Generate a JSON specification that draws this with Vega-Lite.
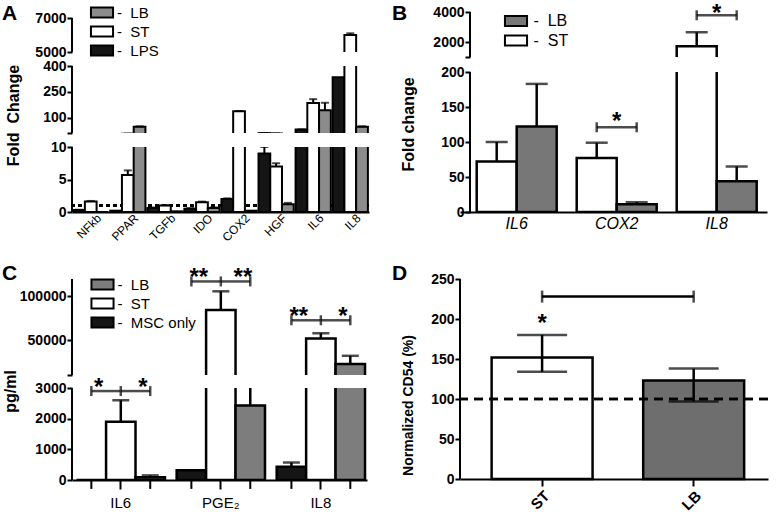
{
"$schema":"https://vega.github.io/schema/vega-lite/v6.json",
"background":"white",
"padding":{"left":2,"top":0,"right":5,"bottom":5},
"config":{
 "font":"Liberation Sans",
 "view":{"stroke":null},
 "axis":{"domainColor":"#000","domainWidth":2,"tickColor":"#000","tickWidth":2,"tickSize":5,"labelColor":"#000","labelFont":"Liberation Sans","labelFontSize":14,"labelFontWeight":"bold","labelPadding":1,"labelOverlap":false,"titleColor":"#000","titleFont":"Liberation Sans","titleFontSize":16,"titleFontWeight":"bold","grid":false},
 "axisY":{"domain":false,"tickColor":"#000"},
 "legend":{"orient":"none","title":null,"labelFont":"Liberation Sans","labelColor":"#000","labelFontSize":15,"symbolType":"M-1.3,-0.6H1.3V0.6H-1.3Z","symbolSize":289,"symbolStrokeColor":"#000","symbolStrokeWidth":2,"rowPadding":-1.5,"padding":0,"labelOffset":5.5,"direction":"vertical"},
 "title":{"font":"Liberation Sans","fontSize":21,"fontWeight":"bold","color":"#000","anchor":"start","frame":"group","offset":0,"baseline":"alphabetic"}
},
"datasets":{
 "A":[
  {"g":"NFkb","s":"LPS","v":0.3,"e":0.35},{"g":"NFkb","s":"ST","v":1.6,"e":1.7},{"g":"NFkb","s":"LB","v":0,"e":null},
  {"g":"PPAR","s":"LPS","v":0.2,"e":null},{"g":"PPAR","s":"ST","v":5.7,"e":6.4},{"g":"PPAR","s":"LB","v":47,"e":49},
  {"g":"TGFb","s":"LPS","v":0.6,"e":0.7},{"g":"TGFb","s":"ST","v":1.0,"e":1.05},{"g":"TGFb","s":"LB","v":0.1,"e":null},
  {"g":"IDO","s":"LPS","v":0.5,"e":0.6},{"g":"IDO","s":"ST","v":1.5,"e":1.6},{"g":"IDO","s":"LB","v":0.6,"e":0.7},
  {"g":"COX2","s":"LPS","v":2.0,"e":2.1},{"g":"COX2","s":"ST","v":136,"e":138},{"g":"COX2","s":"LB","v":0.2,"e":null},
  {"g":"HGF","s":"LPS","v":9.0,"e":10.0},{"g":"HGF","s":"ST","v":7.0,"e":7.5},{"g":"HGF","s":"LB","v":1.2,"e":1.4},
  {"g":"IL6","s":"LPS","v":30,"e":31},{"g":"IL6","s":"ST","v":185,"e":207},{"g":"IL6","s":"LB","v":143,"e":186},
  {"g":"IL8","s":"LPS","v":335,"e":null},{"g":"IL8","s":"ST","v":6000,"e":6100},{"g":"IL8","s":"LB","v":47,"e":49}
 ],
 "B":[
  {"g":"IL6","s":"ST","v":72,"e":100},{"g":"IL6","s":"LB","v":122,"e":183},
  {"g":"COX2","s":"ST","v":77,"e":99},{"g":"COX2","s":"LB","v":11,"e":14},
  {"g":"IL8","s":"ST","v":1720,"e":2650},{"g":"IL8","s":"LB","v":44,"e":65}
 ],
 "Bbr":[{"g":"COX2","pair":"ST-LB","y":121,"t":"*"},{"g":"IL8","pair":"ST-LB","y":3780,"t":"*"}],
 "Bcap":[{"g":"COX2","s":"ST","y":121},{"g":"COX2","s":"LB","y":121},{"g":"IL8","s":"ST","y":3780},{"g":"IL8","s":"LB","y":3780}],
 "C":[
  {"g":"IL6","s":"MSC only","v":0,"e":null},{"g":"IL6","s":"ST","v":1900,"e":2600},{"g":"IL6","s":"LB","v":90,"e":150},
  {"g":"PGE₂","s":"MSC only","v":320,"e":null},{"g":"PGE₂","s":"ST","v":84400,"e":105900},{"g":"PGE₂","s":"LB","v":2430,"e":5000},
  {"g":"IL8","s":"MSC only","v":430,"e":570},{"g":"IL8","s":"ST","v":51900,"e":57800},{"g":"IL8","s":"LB","v":22500,"e":32000}
 ],
 "Cbr":[
  {"g":"IL6","pair":"MSC-ST","y":2900,"t":"*"},{"g":"IL6","pair":"ST-LB","y":2900,"t":"*"},
  {"g":"PGE₂","pair":"MSC-ST","y":117200,"t":"**"},{"g":"PGE₂","pair":"ST-LB","y":117200,"t":"**"},
  {"g":"IL8","pair":"MSC-ST","y":72700,"t":"**"},{"g":"IL8","pair":"ST-LB","y":72700,"t":"*"}
 ],
 "Ccap":[
  {"g":"IL6","s":"MSC only","y":2900},{"g":"IL6","s":"ST","y":2900},{"g":"IL6","s":"LB","y":2900},
  {"g":"PGE₂","s":"MSC only","y":117200},{"g":"PGE₂","s":"ST","y":117200},{"g":"PGE₂","s":"LB","y":117200},
  {"g":"IL8","s":"MSC only","y":72700},{"g":"IL8","s":"ST","y":72700},{"g":"IL8","s":"LB","y":72700}
 ],
 "D":[{"s":"ST","v":152,"lo":134,"hi":180},{"s":"LB","v":123,"lo":97,"hi":138}],
 "Dbr":[{"a":"ST","b":"LB","y":228}],
 "Dcap":[{"s":"ST","y":228},{"s":"LB","y":228}],
 "Dstar":[{"s":"ST","y":194,"t":"*"}]
},
"resolve":{"scale":{"color":"independent","xOffset":"independent"},"legend":{"color":"independent"}},
"spacing":22,
"hconcat":[
 {"spacing":0,"bounds":"flush",
  "resolve":{"scale":{"color":"independent","xOffset":"independent"},"legend":{"color":"independent"}},
  "vconcat":[
   {"width":297,"height":18,"data":{"values":[]},"mark":"point","title":{"text":"A","dx":-70,"dy":27.5}},
   {"width":297,"height":34,"data":{"name":"A"},"layer":[
     {"mark":{"type":"rule","color":"#000","strokeWidth":2},"encoding":{
       "x":{"datum":"NFkb","bandPosition":-0.0316,"type":"nominal","scale":{"domain":["NFkb","PPAR","TGFb","IDO","COX2","HGF","IL6","IL8"],"paddingInner":0.05,"paddingOuter":0.03},"axis":null},
       "y":{"datum":5000,"type":"quantitative","scale":{"domain":[5000,7000]},"axis":{"domain":false,"tickColor":"#000","values":[5000,7000],"format":"d","title":null}},
       "y2":{"datum":7000}}},
     {"mark":{"type":"bar","stroke":"#000","strokeWidth":2,"clip":true},"encoding":{
       "x":{"field":"g","type":"nominal","scale":{"domain":["NFkb","PPAR","TGFb","IDO","COX2","HGF","IL6","IL8"],"paddingInner":0.05,"paddingOuter":0.03},"axis":null},
       "xOffset":{"field":"s","type":"nominal","scale":{"domain":["LPS","ST","LB"],"paddingInner":0,"paddingOuter":0}},
       "y":{"field":"v","type":"quantitative","scale":{"domain":[5000,7000]},"axis":{"domain":false,"tickColor":"#000","values":[5000,7000],"format":"d","title":null}},
       "y2":{"datum":0},
       "color":{"field":"s","type":"nominal","scale":{"domain":["LB","ST","LPS"],"range":["#8c8c8c","#ffffff","#151515"]},"legend":{"legendX":20.5,"legendY":-15,"labelExpr":"'-\u00a0 ' + datum.label"}}}},
     {"transform":[{"filter":"datum.e != null"}],"mark":{"type":"rule","color":"#000","strokeWidth":2,"clip":true},"encoding":{
       "x":{"field":"g","type":"nominal","scale":{"domain":["NFkb","PPAR","TGFb","IDO","COX2","HGF","IL6","IL8"],"paddingInner":0.05,"paddingOuter":0.03},"axis":null},
       "xOffset":{"field":"s","type":"nominal","scale":{"domain":["LPS","ST","LB"],"paddingInner":0,"paddingOuter":0}},
       "y":{"field":"v","type":"quantitative","scale":{"domain":[5000,7000]},"axis":{"domain":false,"tickColor":"#000","values":[5000,7000],"format":"d","title":null}},"y2":{"field":"e"}}},
     {"transform":[{"filter":"datum.e != null"}],"mark":{"type":"tick","color":"#000","thickness":2,"size":8,"clip":true},"encoding":{
       "x":{"field":"g","type":"nominal","scale":{"domain":["NFkb","PPAR","TGFb","IDO","COX2","HGF","IL6","IL8"],"paddingInner":0.05,"paddingOuter":0.03},"axis":null},
       "xOffset":{"field":"s","type":"nominal","scale":{"domain":["LPS","ST","LB"],"paddingInner":0,"paddingOuter":0}},
       "y":{"field":"e","type":"quantitative","scale":{"domain":[5000,7000]},"axis":{"domain":false,"tickColor":"#000","values":[5000,7000],"format":"d","title":null}}}}
   ]},
   {"width":297,"height":14,"data":{"values":[]},"mark":"point"},
   {"width":297,"height":67,"data":{"name":"A"},"layer":[
     {"mark":{"type":"rule","color":"#000","strokeWidth":2},"encoding":{
       "x":{"datum":"NFkb","bandPosition":-0.0316,"type":"nominal","scale":{"domain":["NFkb","PPAR","TGFb","IDO","COX2","HGF","IL6","IL8"],"paddingInner":0.05,"paddingOuter":0.03},"axis":null},
       "y":{"datum":10,"type":"quantitative","scale":{"domain":[10,400]},"axis":{"domain":false,"tickColor":"#000","values":[10,100,250,400],"format":"d","labelExpr":"datum.value == 10 ? '' : datum.label","title":"Fold\u00a0 Change","titleX":-59,"titleY":49,"titleBaseline":"middle","titleAlign":"center"}},
       "y2":{"datum":400}}},
     {"mark":{"type":"bar","stroke":"#000","strokeWidth":2,"clip":true},"encoding":{
       "x":{"field":"g","type":"nominal","scale":{"domain":["NFkb","PPAR","TGFb","IDO","COX2","HGF","IL6","IL8"],"paddingInner":0.05,"paddingOuter":0.03},"axis":null},
       "xOffset":{"field":"s","type":"nominal","scale":{"domain":["LPS","ST","LB"],"paddingInner":0,"paddingOuter":0}},
       "y":{"field":"v","type":"quantitative","scale":{"domain":[10,400]},"axis":{"domain":false,"tickColor":"#000","values":[10,100,250,400],"format":"d","labelExpr":"datum.value == 10 ? '' : datum.label","title":"Fold\u00a0 Change","titleX":-59,"titleY":49,"titleBaseline":"middle","titleAlign":"center"}},
       "y2":{"datum":0},
       "color":{"field":"s","type":"nominal","scale":{"domain":["LB","ST","LPS"],"range":["#8c8c8c","#ffffff","#151515"]},"legend":null}}},
     {"transform":[{"filter":"datum.e != null"}],"mark":{"type":"rule","color":"#000","strokeWidth":2,"clip":true},"encoding":{
       "x":{"field":"g","type":"nominal","scale":{"domain":["NFkb","PPAR","TGFb","IDO","COX2","HGF","IL6","IL8"],"paddingInner":0.05,"paddingOuter":0.03},"axis":null},
       "xOffset":{"field":"s","type":"nominal","scale":{"domain":["LPS","ST","LB"],"paddingInner":0,"paddingOuter":0}},
       "y":{"field":"v","type":"quantitative","scale":{"domain":[10,400]},"axis":{"domain":false,"tickColor":"#000","values":[10,100,250,400],"format":"d","labelExpr":"datum.value == 10 ? '' : datum.label","title":"Fold\u00a0 Change","titleX":-59,"titleY":49,"titleBaseline":"middle","titleAlign":"center"}},"y2":{"field":"e"}}},
     {"transform":[{"filter":"datum.e != null"}],"mark":{"type":"tick","color":"#000","thickness":2,"size":8,"clip":true},"encoding":{
       "x":{"field":"g","type":"nominal","scale":{"domain":["NFkb","PPAR","TGFb","IDO","COX2","HGF","IL6","IL8"],"paddingInner":0.05,"paddingOuter":0.03},"axis":null},
       "xOffset":{"field":"s","type":"nominal","scale":{"domain":["LPS","ST","LB"],"paddingInner":0,"paddingOuter":0}},
       "y":{"field":"e","type":"quantitative","scale":{"domain":[10,400]},"axis":{"domain":false,"tickColor":"#000","values":[10,100,250,400],"format":"d","labelExpr":"datum.value == 10 ? '' : datum.label","title":"Fold\u00a0 Change","titleX":-59,"titleY":49,"titleBaseline":"middle","titleAlign":"center"}}}}
   ]},
   {"width":297,"height":14,"data":{"values":[]},"mark":"point"},
   {"width":297,"height":65,"data":{"name":"A"},"layer":[
     {"mark":{"type":"rule","color":"#000","strokeWidth":2,"strokeDash":[4,3]},"encoding":{
       "y":{"datum":1,"type":"quantitative","scale":{"domain":[0,10]},"axis":{"domain":false,"tickColor":"#000","values":[0,5,10],"format":"d","title":null}}}},
     {"mark":{"type":"rule","color":"#000","strokeWidth":2},"encoding":{
       "x":{"datum":"NFkb","bandPosition":-0.0316,"type":"nominal","scale":{"domain":["NFkb","PPAR","TGFb","IDO","COX2","HGF","IL6","IL8"],"paddingInner":0.05,"paddingOuter":0.03},"axis":{"title":null,"labels":false,"ticks":false,"domain":true}},
       "y":{"datum":0,"type":"quantitative","scale":{"domain":[0,10]},"axis":{"domain":false,"tickColor":"#000","values":[0,5,10],"format":"d","title":null}},
       "y2":{"datum":10}}},
     {"mark":{"type":"bar","stroke":"#000","strokeWidth":2,"clip":true},"encoding":{
       "x":{"field":"g","type":"nominal","scale":{"domain":["NFkb","PPAR","TGFb","IDO","COX2","HGF","IL6","IL8"],"paddingInner":0.05,"paddingOuter":0.03},"axis":{"title":null,"labels":false,"ticks":false,"domain":true}},
       "xOffset":{"field":"s","type":"nominal","scale":{"domain":["LPS","ST","LB"],"paddingInner":0,"paddingOuter":0}},
       "y":{"field":"v","type":"quantitative","scale":{"domain":[0,10]},"axis":{"domain":false,"tickColor":"#000","values":[0,5,10],"format":"d","title":null}},
       "y2":{"datum":0},
       "color":{"field":"s","type":"nominal","scale":{"domain":["LB","ST","LPS"],"range":["#8c8c8c","#ffffff","#151515"]},"legend":null}}},
     {"transform":[{"filter":"datum.e != null"}],"mark":{"type":"rule","color":"#000","strokeWidth":2,"clip":true},"encoding":{
       "x":{"field":"g","type":"nominal","scale":{"domain":["NFkb","PPAR","TGFb","IDO","COX2","HGF","IL6","IL8"],"paddingInner":0.05,"paddingOuter":0.03},"axis":{"title":null,"labels":false,"ticks":false,"domain":true}},
       "xOffset":{"field":"s","type":"nominal","scale":{"domain":["LPS","ST","LB"],"paddingInner":0,"paddingOuter":0}},
       "y":{"field":"v","type":"quantitative","scale":{"domain":[0,10]},"axis":{"domain":false,"tickColor":"#000","values":[0,5,10],"format":"d","title":null}},"y2":{"field":"e"}}},
     {"transform":[{"filter":"datum.e != null"}],"mark":{"type":"tick","color":"#000","thickness":2,"size":8,"clip":true},"encoding":{
       "x":{"field":"g","type":"nominal","scale":{"domain":["NFkb","PPAR","TGFb","IDO","COX2","HGF","IL6","IL8"],"paddingInner":0.05,"paddingOuter":0.03},"axis":{"title":null,"labels":false,"ticks":false,"domain":true}},
       "xOffset":{"field":"s","type":"nominal","scale":{"domain":["LPS","ST","LB"],"paddingInner":0,"paddingOuter":0}},
       "y":{"field":"e","type":"quantitative","scale":{"domain":[0,10]},"axis":{"domain":false,"tickColor":"#000","values":[0,5,10],"format":"d","title":null}}}},
     {"transform":[{"filter":"datum.s == 'ST'"}],"mark":{"type":"text","color":"#000","fontSize":12,"font":"Liberation Sans","angle":-45,"align":"right","baseline":"middle","dx":3,"dy":9},"encoding":{
       "x":{"field":"g","type":"nominal","scale":{"domain":["NFkb","PPAR","TGFb","IDO","COX2","HGF","IL6","IL8"],"paddingInner":0.05,"paddingOuter":0.03},"axis":{"title":null,"labels":false,"ticks":false,"domain":true}},
       "y":{"datum":0,"type":"quantitative","scale":{"domain":[0,10]},"axis":{"domain":false,"tickColor":"#000","values":[0,5,10],"format":"d","title":null}},
       "text":{"field":"g"}}}
   ]},
   {"width":295,"height":67,"data":{"values":[]},"mark":"point","title":{"text":"C","dx":-70,"dy":75.5}},
   {"width":295,"height":96,"data":{"name":"C"},"resolve":{"scale":{"xOffset":"independent"}},"layer":[
     {"mark":{"type":"rule","color":"#000","strokeWidth":2},"encoding":{
       "x":{"datum":"IL6","bandPosition":-0.0523,"type":"nominal","scale":{"domain":["IL6","PGE₂","IL8"],"paddingInner":0.117,"paddingOuter":0.033,"align":0.7},"axis":null},
       "y":{"datum":10000,"type":"quantitative","scale":{"domain":[10000,120000]},"axis":{"domain":false,"tickColor":"#000","values":[10000,50000,100000],"format":"d","labelExpr":"datum.value == 10000 ? '' : datum.label","title":null}},
       "y2":{"datum":120000}}},
     {"mark":{"type":"bar","stroke":"#000","strokeWidth":2.5,"clip":true},"encoding":{
       "x":{"field":"g","type":"nominal","scale":{"domain":["IL6","PGE₂","IL8"],"paddingInner":0.117,"paddingOuter":0.033,"align":0.7},"axis":null},
       "xOffset":{"field":"s","type":"nominal","scale":{"domain":["MSC only","ST","LB"],"paddingInner":0,"paddingOuter":0}},
       "y":{"field":"v","type":"quantitative","scale":{"domain":[10000,120000]},"axis":{"domain":false,"tickColor":"#000","values":[10000,50000,100000],"format":"d","labelExpr":"datum.value == 10000 ? '' : datum.label","title":null}},
       "y2":{"datum":0},
       "color":{"field":"s","type":"nominal","scale":{"domain":["LB","ST","MSC only"],"range":["#7d7d7d","#ffffff","#151515"]},"legend":{"legendX":21,"legendY":-4,"rowPadding":-2,"labelExpr":"'-\u00a0 ' + datum.label"}}}},
     {"transform":[{"filter":"datum.e != null"}],"mark":{"type":"rule","color":"#000","strokeWidth":2.5,"clip":true},"encoding":{
       "x":{"field":"g","type":"nominal","scale":{"domain":["IL6","PGE₂","IL8"],"paddingInner":0.117,"paddingOuter":0.033,"align":0.7},"axis":null},
       "xOffset":{"field":"s","type":"nominal","scale":{"domain":["MSC only","ST","LB"],"paddingInner":0,"paddingOuter":0}},
       "y":{"field":"v","type":"quantitative","scale":{"domain":[10000,120000]},"axis":{"domain":false,"tickColor":"#000","values":[10000,50000,100000],"format":"d","labelExpr":"datum.value == 10000 ? '' : datum.label","title":null}},"y2":{"field":"e"}}},
     {"transform":[{"filter":"datum.e != null"}],"mark":{"type":"tick","color":"#000","thickness":2.5,"size":17,"clip":true},"encoding":{
       "x":{"field":"g","type":"nominal","scale":{"domain":["IL6","PGE₂","IL8"],"paddingInner":0.117,"paddingOuter":0.033,"align":0.7},"axis":null},
       "xOffset":{"field":"s","type":"nominal","scale":{"domain":["MSC only","ST","LB"],"paddingInner":0,"paddingOuter":0}},
       "y":{"field":"e","type":"quantitative","scale":{"domain":[10000,120000]},"axis":{"domain":false,"tickColor":"#000","values":[10000,50000,100000],"format":"d","labelExpr":"datum.value == 10000 ? '' : datum.label","title":null}}}},
     {"data":{"name":"Cbr"},"transform":[{"filter":"datum.y > 3000"}],"mark":{"type":"tick","color":"#000","thickness":2.5,"size":29},"encoding":{
       "x":{"field":"g","type":"nominal","scale":{"domain":["IL6","PGE₂","IL8"],"paddingInner":0.117,"paddingOuter":0.033,"align":0.7},"axis":null},
       "xOffset":{"field":"pair","type":"nominal","scale":{"domain":["MSC-ST","ST-LB"],"paddingInner":0,"paddingOuter":0.5}},
       "y":{"field":"y","type":"quantitative","scale":{"domain":[10000,120000]},"axis":{"domain":false,"tickColor":"#000","values":[10000,50000,100000],"format":"d","labelExpr":"datum.value == 10000 ? '' : datum.label","title":null}}}},
     {"data":{"name":"Ccap"},"transform":[{"filter":"datum.y > 3000"}],"mark":{"type":"tick","orient":"vertical","color":"#000","thickness":2.5,"size":10},"encoding":{
       "x":{"field":"g","type":"nominal","scale":{"domain":["IL6","PGE₂","IL8"],"paddingInner":0.117,"paddingOuter":0.033,"align":0.7},"axis":null},
       "xOffset":{"field":"s","type":"nominal","scale":{"domain":["MSC only","ST","LB"],"paddingInner":0,"paddingOuter":0}},
       "y":{"field":"y","type":"quantitative","scale":{"domain":[10000,120000]},"axis":{"domain":false,"tickColor":"#000","values":[10000,50000,100000],"format":"d","labelExpr":"datum.value == 10000 ? '' : datum.label","title":null}}}},
     {"data":{"name":"Cbr"},"transform":[{"filter":"datum.y > 3000"}],"mark":{"type":"text","color":"#000","fontSize":24,"fontWeight":"bold","baseline":"middle","dy":-3},"encoding":{
       "x":{"field":"g","type":"nominal","scale":{"domain":["IL6","PGE₂","IL8"],"paddingInner":0.117,"paddingOuter":0.033,"align":0.7},"axis":null},
       "xOffset":{"field":"pair","type":"nominal","scale":{"domain":["MSC-ST","ST-LB"],"paddingInner":0,"paddingOuter":0.5}},
       "y":{"field":"y","type":"quantitative","scale":{"domain":[10000,120000]},"axis":{"domain":false,"tickColor":"#000","values":[10000,50000,100000],"format":"d","labelExpr":"datum.value == 10000 ? '' : datum.label","title":null}},
       "text":{"field":"t"}}}
   ]},
   {"width":295,"height":13,"data":{"values":[]},"mark":"point"},
   {"width":295,"height":92,"data":{"name":"C"},"resolve":{"scale":{"xOffset":"independent"}},"layer":[
     {"mark":{"type":"rule","color":"#000","strokeWidth":2},"encoding":{
       "x":{"datum":"IL6","bandPosition":-0.0523,"type":"nominal","scale":{"domain":["IL6","PGE₂","IL8"],"paddingInner":0.117,"paddingOuter":0.033,"align":0.7},"axis":{"title":null,"labelAngle":0,"labelFontWeight":"normal","labelFontSize":15,"tickSize":9,"labelPadding":6}},
       "y":{"datum":0,"type":"quantitative","scale":{"domain":[0,3000]},"axis":{"domain":false,"tickColor":"#000","values":[0,1000,2000,3000],"format":"d","title":"pg/ml","titleX":-62,"titleY":3,"titleBaseline":"middle","titleAlign":"center"}},
       "y2":{"datum":3000}}},
     {"mark":{"type":"bar","stroke":"#000","strokeWidth":2.5,"clip":true},"encoding":{
       "x":{"field":"g","type":"nominal","scale":{"domain":["IL6","PGE₂","IL8"],"paddingInner":0.117,"paddingOuter":0.033,"align":0.7},"axis":{"title":null,"labelAngle":0,"labelFontWeight":"normal","labelFontSize":15,"tickSize":9,"labelPadding":6}},
       "xOffset":{"field":"s","type":"nominal","scale":{"domain":["MSC only","ST","LB"],"paddingInner":0,"paddingOuter":0}},
       "y":{"field":"v","type":"quantitative","scale":{"domain":[0,3000]},"axis":{"domain":false,"tickColor":"#000","values":[0,1000,2000,3000],"format":"d","title":"pg/ml","titleX":-62,"titleY":3,"titleBaseline":"middle","titleAlign":"center"}},
       "y2":{"datum":0},
       "color":{"field":"s","type":"nominal","scale":{"domain":["LB","ST","MSC only"],"range":["#7d7d7d","#ffffff","#151515"]},"legend":null}}},
     {"transform":[{"filter":"datum.e != null"}],"mark":{"type":"rule","color":"#000","strokeWidth":2.5,"clip":true},"encoding":{
       "x":{"field":"g","type":"nominal","scale":{"domain":["IL6","PGE₂","IL8"],"paddingInner":0.117,"paddingOuter":0.033,"align":0.7},"axis":{"title":null,"labelAngle":0,"labelFontWeight":"normal","labelFontSize":15,"tickSize":9,"labelPadding":6}},
       "xOffset":{"field":"s","type":"nominal","scale":{"domain":["MSC only","ST","LB"],"paddingInner":0,"paddingOuter":0}},
       "y":{"field":"v","type":"quantitative","scale":{"domain":[0,3000]},"axis":{"domain":false,"tickColor":"#000","values":[0,1000,2000,3000],"format":"d","title":"pg/ml","titleX":-62,"titleY":3,"titleBaseline":"middle","titleAlign":"center"}},"y2":{"field":"e"}}},
     {"transform":[{"filter":"datum.e != null"}],"mark":{"type":"tick","color":"#000","thickness":2.5,"size":17,"clip":true},"encoding":{
       "x":{"field":"g","type":"nominal","scale":{"domain":["IL6","PGE₂","IL8"],"paddingInner":0.117,"paddingOuter":0.033,"align":0.7},"axis":{"title":null,"labelAngle":0,"labelFontWeight":"normal","labelFontSize":15,"tickSize":9,"labelPadding":6}},
       "xOffset":{"field":"s","type":"nominal","scale":{"domain":["MSC only","ST","LB"],"paddingInner":0,"paddingOuter":0}},
       "y":{"field":"e","type":"quantitative","scale":{"domain":[0,3000]},"axis":{"domain":false,"tickColor":"#000","values":[0,1000,2000,3000],"format":"d","title":"pg/ml","titleX":-62,"titleY":3,"titleBaseline":"middle","titleAlign":"center"}}}},
     {"transform":[{"filter":"datum.s != 'ST'"}],"mark":{"type":"rule","color":"#000","strokeWidth":2},"encoding":{
       "x":{"field":"g","type":"nominal","scale":{"domain":["IL6","PGE₂","IL8"],"paddingInner":0.117,"paddingOuter":0.033,"align":0.7},"axis":{"title":null,"labelAngle":0,"labelFontWeight":"normal","labelFontSize":15,"tickSize":9,"labelPadding":6}},
       "xOffset":{"field":"s","type":"nominal","scale":{"domain":["MSC only","ST","LB"],"paddingInner":0,"paddingOuter":0}},
       "y":{"datum":0,"type":"quantitative","scale":{"domain":[0,3000]},"axis":{"domain":false,"tickColor":"#000","values":[0,1000,2000,3000],"format":"d","title":"pg/ml","titleX":-62,"titleY":3,"titleBaseline":"middle","titleAlign":"center"}},"y2":{"datum":-290}}},
     {"data":{"name":"Cbr"},"transform":[{"filter":"datum.y <= 3000"}],"mark":{"type":"tick","color":"#000","thickness":2.5,"size":29},"encoding":{
       "x":{"field":"g","type":"nominal","scale":{"domain":["IL6","PGE₂","IL8"],"paddingInner":0.117,"paddingOuter":0.033,"align":0.7},"axis":{"title":null,"labelAngle":0,"labelFontWeight":"normal","labelFontSize":15,"tickSize":9,"labelPadding":6}},
       "xOffset":{"field":"pair","type":"nominal","scale":{"domain":["MSC-ST","ST-LB"],"paddingInner":0,"paddingOuter":0.5}},
       "y":{"field":"y","type":"quantitative","scale":{"domain":[0,3000]},"axis":{"domain":false,"tickColor":"#000","values":[0,1000,2000,3000],"format":"d","title":"pg/ml","titleX":-62,"titleY":3,"titleBaseline":"middle","titleAlign":"center"}}}},
     {"data":{"name":"Ccap"},"transform":[{"filter":"datum.y <= 3000"}],"mark":{"type":"tick","orient":"vertical","color":"#000","thickness":2.5,"size":10},"encoding":{
       "x":{"field":"g","type":"nominal","scale":{"domain":["IL6","PGE₂","IL8"],"paddingInner":0.117,"paddingOuter":0.033,"align":0.7},"axis":{"title":null,"labelAngle":0,"labelFontWeight":"normal","labelFontSize":15,"tickSize":9,"labelPadding":6}},
       "xOffset":{"field":"s","type":"nominal","scale":{"domain":["MSC only","ST","LB"],"paddingInner":0,"paddingOuter":0}},
       "y":{"field":"y","type":"quantitative","scale":{"domain":[0,3000]},"axis":{"domain":false,"tickColor":"#000","values":[0,1000,2000,3000],"format":"d","title":"pg/ml","titleX":-62,"titleY":3,"titleBaseline":"middle","titleAlign":"center"}}}},
     {"data":{"name":"Cbr"},"transform":[{"filter":"datum.y <= 3000"}],"mark":{"type":"text","color":"#000","fontSize":24,"fontWeight":"bold","baseline":"middle","dy":-3},"encoding":{
       "x":{"field":"g","type":"nominal","scale":{"domain":["IL6","PGE₂","IL8"],"paddingInner":0.117,"paddingOuter":0.033,"align":0.7},"axis":{"title":null,"labelAngle":0,"labelFontWeight":"normal","labelFontSize":15,"tickSize":9,"labelPadding":6}},
       "xOffset":{"field":"pair","type":"nominal","scale":{"domain":["MSC-ST","ST-LB"],"paddingInner":0,"paddingOuter":0.5}},
       "y":{"field":"y","type":"quantitative","scale":{"domain":[0,3000]},"axis":{"domain":false,"tickColor":"#000","values":[0,1000,2000,3000],"format":"d","title":"pg/ml","titleX":-62,"titleY":3,"titleBaseline":"middle","titleAlign":"center"}},
       "text":{"field":"t"}}}
   ]}
  ]},
 {"spacing":0,"bounds":"flush",
  "resolve":{"scale":{"color":"independent","xOffset":"independent"},"legend":{"color":"independent"}},
  "vconcat":[
   {"width":307,"height":12,"data":{"values":[]},"mark":"point","title":{"text":"B","dx":-68,"dy":27.5}},
   {"width":307,"height":45,"data":{"name":"B"},"resolve":{"scale":{"xOffset":"independent"}},"layer":[
     {"mark":{"type":"rule","color":"#000","strokeWidth":2},"encoding":{
       "x":{"datum":"IL6","bandPosition":0,"type":"nominal","scale":{"domain":["IL6","COX2","IL8"],"paddingInner":0.066,"paddingOuter":0.068,"align":0.735},"axis":null},
       "y":{"datum":1000,"type":"quantitative","scale":{"domain":[1000,4000]},"axis":{"domain":false,"tickColor":"#000","values":[1000,2000,4000],"format":"d","labelExpr":"datum.value == 1000 ? '' : datum.label","title":null,"offset":-10}},
       "y2":{"datum":4000}}},
     {"mark":{"type":"bar","stroke":"#000","strokeWidth":2.5,"clip":true},"encoding":{
       "x":{"field":"g","type":"nominal","scale":{"domain":["IL6","COX2","IL8"],"paddingInner":0.066,"paddingOuter":0.068,"align":0.735},"axis":null},
       "xOffset":{"field":"s","type":"nominal","scale":{"domain":["ST","LB"],"paddingInner":0,"paddingOuter":0.1675}},
       "y":{"field":"v","type":"quantitative","scale":{"domain":[1000,4000]},"axis":{"domain":false,"tickColor":"#000","values":[1000,2000,4000],"format":"d","labelExpr":"datum.value == 1000 ? '' : datum.label","title":null,"offset":-10}},
       "y2":{"datum":0},
       "color":{"field":"s","type":"nominal","scale":{"domain":["LB","ST"],"range":["#777777","#ffffff"]},"legend":{"legendX":46.5,"legendY":-0.5,"rowPadding":0.5,"labelFontSize":16,"labelOffset":8,"labelExpr":"'-\u00a0 ' + datum.label"}}}},
     {"mark":{"type":"rule","color":"#000","strokeWidth":2.5,"clip":true},"encoding":{
       "x":{"field":"g","type":"nominal","scale":{"domain":["IL6","COX2","IL8"],"paddingInner":0.066,"paddingOuter":0.068,"align":0.735},"axis":null},
       "xOffset":{"field":"s","type":"nominal","scale":{"domain":["ST","LB"],"paddingInner":0,"paddingOuter":0.1675}},
       "y":{"field":"v","type":"quantitative","scale":{"domain":[1000,4000]},"axis":{"domain":false,"tickColor":"#000","values":[1000,2000,4000],"format":"d","labelExpr":"datum.value == 1000 ? '' : datum.label","title":null,"offset":-10}},"y2":{"field":"e"}}},
     {"mark":{"type":"tick","color":"#000","thickness":2.5,"size":22,"clip":true},"encoding":{
       "x":{"field":"g","type":"nominal","scale":{"domain":["IL6","COX2","IL8"],"paddingInner":0.066,"paddingOuter":0.068,"align":0.735},"axis":null},
       "xOffset":{"field":"s","type":"nominal","scale":{"domain":["ST","LB"],"paddingInner":0,"paddingOuter":0.1675}},
       "y":{"field":"e","type":"quantitative","scale":{"domain":[1000,4000]},"axis":{"domain":false,"tickColor":"#000","values":[1000,2000,4000],"format":"d","labelExpr":"datum.value == 1000 ? '' : datum.label","title":null,"offset":-10}}}},
     {"data":{"name":"Bbr"},"transform":[{"filter":"datum.y > 200"}],"mark":{"type":"tick","color":"#000","thickness":2.5,"size":40},"encoding":{
       "x":{"field":"g","type":"nominal","scale":{"domain":["IL6","COX2","IL8"],"paddingInner":0.066,"paddingOuter":0.068,"align":0.735},"axis":null},
       "xOffset":{"field":"pair","type":"nominal","scale":{"domain":["ST-LB"],"paddingInner":0,"paddingOuter":0.5}},
       "y":{"field":"y","type":"quantitative","scale":{"domain":[1000,4000]},"axis":{"domain":false,"tickColor":"#000","values":[1000,2000,4000],"format":"d","labelExpr":"datum.value == 1000 ? '' : datum.label","title":null,"offset":-10}}}},
     {"data":{"name":"Bcap"},"transform":[{"filter":"datum.y > 200"}],"mark":{"type":"tick","orient":"vertical","color":"#000","thickness":2.5,"size":10},"encoding":{
       "x":{"field":"g","type":"nominal","scale":{"domain":["IL6","COX2","IL8"],"paddingInner":0.066,"paddingOuter":0.068,"align":0.735},"axis":null},
       "xOffset":{"field":"s","type":"nominal","scale":{"domain":["ST","LB"],"paddingInner":0,"paddingOuter":0.1675}},
       "y":{"field":"y","type":"quantitative","scale":{"domain":[1000,4000]},"axis":{"domain":false,"tickColor":"#000","values":[1000,2000,4000],"format":"d","labelExpr":"datum.value == 1000 ? '' : datum.label","title":null,"offset":-10}}}},
     {"data":{"name":"Bbr"},"transform":[{"filter":"datum.y > 200"}],"mark":{"type":"text","color":"#000","fontSize":24,"fontWeight":"bold","baseline":"middle","dy":-1},"encoding":{
       "x":{"field":"g","type":"nominal","scale":{"domain":["IL6","COX2","IL8"],"paddingInner":0.066,"paddingOuter":0.068,"align":0.735},"axis":null},
       "xOffset":{"field":"pair","type":"nominal","scale":{"domain":["ST-LB"],"paddingInner":0,"paddingOuter":0.5}},
       "y":{"field":"y","type":"quantitative","scale":{"domain":[1000,4000]},"axis":{"domain":false,"tickColor":"#000","values":[1000,2000,4000],"format":"d","labelExpr":"datum.value == 1000 ? '' : datum.label","title":null,"offset":-10}},
       "text":{"field":"t"}}}
   ]},
   {"width":307,"height":15,"data":{"values":[]},"mark":"point"},
   {"width":307,"height":140,"data":{"name":"B"},"resolve":{"scale":{"xOffset":"independent"}},"layer":[
     {"mark":{"type":"rule","color":"#000","strokeWidth":2},"encoding":{
       "x":{"datum":"IL6","bandPosition":0,"type":"nominal","scale":{"domain":["IL6","COX2","IL8"],"paddingInner":0.066,"paddingOuter":0.068,"align":0.735},"axis":{"title":null,"labelAngle":0,"labelFontWeight":"normal","labelFontStyle":"italic","labelFontSize":16,"ticks":false,"labelPadding":3}},
       "y":{"datum":0,"type":"quantitative","scale":{"domain":[0,200]},"axis":{"domain":false,"tickColor":"#000","values":[0,50,100,150,200],"format":"d","title":"Fold change","titleX":-62,"titleY":52,"titleBaseline":"middle","titleAlign":"center","offset":-10}},
       "y2":{"datum":200}}},
     {"mark":{"type":"bar","stroke":"#000","strokeWidth":2.5,"clip":true},"encoding":{
       "x":{"field":"g","type":"nominal","scale":{"domain":["IL6","COX2","IL8"],"paddingInner":0.066,"paddingOuter":0.068,"align":0.735},"axis":{"title":null,"labelAngle":0,"labelFontWeight":"normal","labelFontStyle":"italic","labelFontSize":16,"ticks":false,"labelPadding":3}},
       "xOffset":{"field":"s","type":"nominal","scale":{"domain":["ST","LB"],"paddingInner":0,"paddingOuter":0.1675}},
       "y":{"field":"v","type":"quantitative","scale":{"domain":[0,200]},"axis":{"domain":false,"tickColor":"#000","values":[0,50,100,150,200],"format":"d","title":"Fold change","titleX":-62,"titleY":52,"titleBaseline":"middle","titleAlign":"center","offset":-10}},
       "y2":{"datum":0},
       "color":{"field":"s","type":"nominal","scale":{"domain":["LB","ST"],"range":["#777777","#ffffff"]},"legend":null}}},
     {"mark":{"type":"rule","color":"#000","strokeWidth":2.5,"clip":true},"encoding":{
       "x":{"field":"g","type":"nominal","scale":{"domain":["IL6","COX2","IL8"],"paddingInner":0.066,"paddingOuter":0.068,"align":0.735},"axis":{"title":null,"labelAngle":0,"labelFontWeight":"normal","labelFontStyle":"italic","labelFontSize":16,"ticks":false,"labelPadding":3}},
       "xOffset":{"field":"s","type":"nominal","scale":{"domain":["ST","LB"],"paddingInner":0,"paddingOuter":0.1675}},
       "y":{"field":"v","type":"quantitative","scale":{"domain":[0,200]},"axis":{"domain":false,"tickColor":"#000","values":[0,50,100,150,200],"format":"d","title":"Fold change","titleX":-62,"titleY":52,"titleBaseline":"middle","titleAlign":"center","offset":-10}},"y2":{"field":"e"}}},
     {"mark":{"type":"tick","color":"#000","thickness":2.5,"size":22,"clip":true},"encoding":{
       "x":{"field":"g","type":"nominal","scale":{"domain":["IL6","COX2","IL8"],"paddingInner":0.066,"paddingOuter":0.068,"align":0.735},"axis":{"title":null,"labelAngle":0,"labelFontWeight":"normal","labelFontStyle":"italic","labelFontSize":16,"ticks":false,"labelPadding":3}},
       "xOffset":{"field":"s","type":"nominal","scale":{"domain":["ST","LB"],"paddingInner":0,"paddingOuter":0.1675}},
       "y":{"field":"e","type":"quantitative","scale":{"domain":[0,200]},"axis":{"domain":false,"tickColor":"#000","values":[0,50,100,150,200],"format":"d","title":"Fold change","titleX":-62,"titleY":52,"titleBaseline":"middle","titleAlign":"center","offset":-10}}}},
     {"data":{"name":"Bbr"},"transform":[{"filter":"datum.y <= 200"}],"mark":{"type":"tick","color":"#000","thickness":2.5,"size":40},"encoding":{
       "x":{"field":"g","type":"nominal","scale":{"domain":["IL6","COX2","IL8"],"paddingInner":0.066,"paddingOuter":0.068,"align":0.735},"axis":{"title":null,"labelAngle":0,"labelFontWeight":"normal","labelFontStyle":"italic","labelFontSize":16,"ticks":false,"labelPadding":3}},
       "xOffset":{"field":"pair","type":"nominal","scale":{"domain":["ST-LB"],"paddingInner":0,"paddingOuter":0.5}},
       "y":{"field":"y","type":"quantitative","scale":{"domain":[0,200]},"axis":{"domain":false,"tickColor":"#000","values":[0,50,100,150,200],"format":"d","title":"Fold change","titleX":-62,"titleY":52,"titleBaseline":"middle","titleAlign":"center","offset":-10}}}},
     {"data":{"name":"Bcap"},"transform":[{"filter":"datum.y <= 200"}],"mark":{"type":"tick","orient":"vertical","color":"#000","thickness":2.5,"size":10},"encoding":{
       "x":{"field":"g","type":"nominal","scale":{"domain":["IL6","COX2","IL8"],"paddingInner":0.066,"paddingOuter":0.068,"align":0.735},"axis":{"title":null,"labelAngle":0,"labelFontWeight":"normal","labelFontStyle":"italic","labelFontSize":16,"ticks":false,"labelPadding":3}},
       "xOffset":{"field":"s","type":"nominal","scale":{"domain":["ST","LB"],"paddingInner":0,"paddingOuter":0.1675}},
       "y":{"field":"y","type":"quantitative","scale":{"domain":[0,200]},"axis":{"domain":false,"tickColor":"#000","values":[0,50,100,150,200],"format":"d","title":"Fold change","titleX":-62,"titleY":52,"titleBaseline":"middle","titleAlign":"center","offset":-10}}}},
     {"data":{"name":"Bbr"},"transform":[{"filter":"datum.y <= 200"}],"mark":{"type":"text","color":"#000","fontSize":24,"fontWeight":"bold","baseline":"middle","dy":-5},"encoding":{
       "x":{"field":"g","type":"nominal","scale":{"domain":["IL6","COX2","IL8"],"paddingInner":0.066,"paddingOuter":0.068,"align":0.735},"axis":{"title":null,"labelAngle":0,"labelFontWeight":"normal","labelFontStyle":"italic","labelFontSize":16,"ticks":false,"labelPadding":3}},
       "xOffset":{"field":"pair","type":"nominal","scale":{"domain":["ST-LB"],"paddingInner":0,"paddingOuter":0.5}},
       "y":{"field":"y","type":"quantitative","scale":{"domain":[0,200]},"axis":{"domain":false,"tickColor":"#000","values":[0,50,100,150,200],"format":"d","title":"Fold change","titleX":-62,"titleY":52,"titleBaseline":"middle","titleAlign":"center","offset":-10}},
       "text":{"field":"t"}}}
   ]},
   {"width":308,"height":67,"data":{"values":[]},"mark":"point","title":{"text":"D","dx":-68,"dy":75.5}},
   {"width":308,"height":200,"data":{"name":"D"},"layer":[
     {"mark":{"type":"rule","color":"#000","strokeWidth":2},"encoding":{
       "x":{"datum":"ST","bandPosition":-0.3132,"type":"nominal","scale":{"domain":["ST","LB"],"paddingInner":0.334,"paddingOuter":0.183,"align":0.57},"axis":{"title":null,"labelAngle":-45,"labelFontSize":15,"tickSize":7,"labelPadding":2}},
       "y":{"datum":0,"type":"quantitative","scale":{"domain":[0,250]},"axis":{"domain":false,"tickColor":"#000","values":[0,50,100,150,200,250],"format":"d","title":"Normalized CD54 (%)","titleFontSize":14,"titleX":-52,"titleY":126,"titleBaseline":"middle","titleAlign":"center"}},
       "y2":{"datum":250}}},
     {"mark":{"type":"bar","stroke":"#000","strokeWidth":2.5},"encoding":{
       "x":{"field":"s","type":"nominal","scale":{"domain":["ST","LB"],"paddingInner":0.334,"paddingOuter":0.183,"align":0.57},"axis":{"title":null,"labelAngle":-45,"labelFontSize":15,"tickSize":7,"labelPadding":2}},
       "y":{"field":"v","type":"quantitative","scale":{"domain":[0,250]},"axis":{"domain":false,"tickColor":"#000","values":[0,50,100,150,200,250],"format":"d","title":"Normalized CD54 (%)","titleFontSize":14,"titleX":-52,"titleY":126,"titleBaseline":"middle","titleAlign":"center"}},
       "color":{"field":"s","type":"nominal","scale":{"domain":["ST","LB"],"range":["#ffffff","#6e6e6e"]},"legend":null}}},
     {"mark":{"type":"rule","color":"#000","strokeWidth":2.5},"encoding":{
       "x":{"field":"s","type":"nominal","scale":{"domain":["ST","LB"],"paddingInner":0.334,"paddingOuter":0.183,"align":0.57},"axis":{"title":null,"labelAngle":-45,"labelFontSize":15,"tickSize":7,"labelPadding":2}},
       "y":{"field":"lo","type":"quantitative","scale":{"domain":[0,250]},"axis":{"domain":false,"tickColor":"#000","values":[0,50,100,150,200,250],"format":"d","title":"Normalized CD54 (%)","titleFontSize":14,"titleX":-52,"titleY":126,"titleBaseline":"middle","titleAlign":"center"}},"y2":{"field":"hi"}}},
     {"mark":{"type":"tick","color":"#000","thickness":2.5,"size":50},"encoding":{
       "x":{"field":"s","type":"nominal","scale":{"domain":["ST","LB"],"paddingInner":0.334,"paddingOuter":0.183,"align":0.57},"axis":{"title":null,"labelAngle":-45,"labelFontSize":15,"tickSize":7,"labelPadding":2}},
       "y":{"field":"lo","type":"quantitative","scale":{"domain":[0,250]},"axis":{"domain":false,"tickColor":"#000","values":[0,50,100,150,200,250],"format":"d","title":"Normalized CD54 (%)","titleFontSize":14,"titleX":-52,"titleY":126,"titleBaseline":"middle","titleAlign":"center"}}}},
     {"mark":{"type":"tick","color":"#000","thickness":2.5,"size":50},"encoding":{
       "x":{"field":"s","type":"nominal","scale":{"domain":["ST","LB"],"paddingInner":0.334,"paddingOuter":0.183,"align":0.57},"axis":{"title":null,"labelAngle":-45,"labelFontSize":15,"tickSize":7,"labelPadding":2}},
       "y":{"field":"hi","type":"quantitative","scale":{"domain":[0,250]},"axis":{"domain":false,"tickColor":"#000","values":[0,50,100,150,200,250],"format":"d","title":"Normalized CD54 (%)","titleFontSize":14,"titleX":-52,"titleY":126,"titleBaseline":"middle","titleAlign":"center"}}}},
     {"mark":{"type":"rule","color":"#000","strokeWidth":2.5,"strokeDash":[9,6]},"encoding":{
       "y":{"datum":100,"type":"quantitative","scale":{"domain":[0,250]},"axis":{"domain":false,"tickColor":"#000","values":[0,50,100,150,200,250],"format":"d","title":"Normalized CD54 (%)","titleFontSize":14,"titleX":-52,"titleY":126,"titleBaseline":"middle","titleAlign":"center"}}}},
     {"data":{"name":"Dbr"},"mark":{"type":"rule","color":"#000","strokeWidth":2.5},"encoding":{
       "x":{"field":"a","type":"nominal","scale":{"domain":["ST","LB"],"paddingInner":0.334,"paddingOuter":0.183,"align":0.57},"axis":{"title":null,"labelAngle":-45,"labelFontSize":15,"tickSize":7,"labelPadding":2}},"x2":{"field":"b"},
       "y":{"field":"y","type":"quantitative","scale":{"domain":[0,250]},"axis":{"domain":false,"tickColor":"#000","values":[0,50,100,150,200,250],"format":"d","title":"Normalized CD54 (%)","titleFontSize":14,"titleX":-52,"titleY":126,"titleBaseline":"middle","titleAlign":"center"}}}},
     {"data":{"name":"Dcap"},"mark":{"type":"tick","orient":"vertical","color":"#000","thickness":2.5,"size":12},"encoding":{
       "x":{"field":"s","type":"nominal","scale":{"domain":["ST","LB"],"paddingInner":0.334,"paddingOuter":0.183,"align":0.57},"axis":{"title":null,"labelAngle":-45,"labelFontSize":15,"tickSize":7,"labelPadding":2}},
       "y":{"field":"y","type":"quantitative","scale":{"domain":[0,250]},"axis":{"domain":false,"tickColor":"#000","values":[0,50,100,150,200,250],"format":"d","title":"Normalized CD54 (%)","titleFontSize":14,"titleX":-52,"titleY":126,"titleBaseline":"middle","titleAlign":"center"}}}},
     {"data":{"name":"Dstar"},"mark":{"type":"text","color":"#000","fontSize":24,"fontWeight":"bold","baseline":"middle"},"encoding":{
       "x":{"field":"s","type":"nominal","scale":{"domain":["ST","LB"],"paddingInner":0.334,"paddingOuter":0.183,"align":0.57},"axis":{"title":null,"labelAngle":-45,"labelFontSize":15,"tickSize":7,"labelPadding":2}},
       "y":{"field":"y","type":"quantitative","scale":{"domain":[0,250]},"axis":{"domain":false,"tickColor":"#000","values":[0,50,100,150,200,250],"format":"d","title":"Normalized CD54 (%)","titleFontSize":14,"titleX":-52,"titleY":126,"titleBaseline":"middle","titleAlign":"center"}},
       "text":{"field":"t"}}}
   ]}
  ]}
]
}
